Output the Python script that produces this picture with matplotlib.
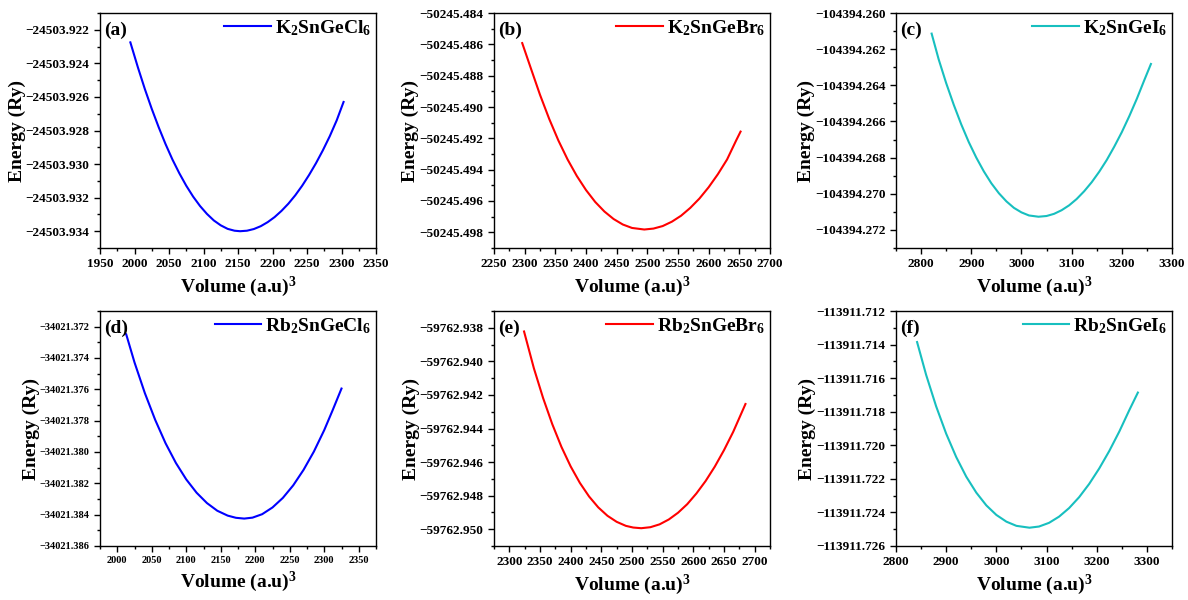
import matplotlib
matplotlib.use("Agg")
import matplotlib.pyplot as plt
from matplotlib.ticker import MultipleLocator, AutoMinorLocator, FuncFormatter

plt.rcParams['font.family'] = ['Liberation Serif', 'DejaVu Serif']
plt.rcParams['font.weight'] = 'bold'
plt.rcParams['mathtext.fontset'] = 'custom'
plt.rcParams['mathtext.rm'] = 'Liberation Serif:bold'
plt.rcParams['mathtext.it'] = 'Liberation Serif:bold'
plt.rcParams['mathtext.bf'] = 'Liberation Serif:bold'

# energy-volume curves
vol_a = [1994, 2005, 2015, 2025, 2035, 2045, 2055, 2065, 2075, 2085, 2095, 2105, 2115, 2125, 2135, 2145,
         2153, 2163, 2173, 2183, 2193, 2203, 2213, 2223, 2233, 2243, 2253, 2263, 2273, 2283, 2293, 2303]
en_a = [-24503.92275, -24503.92425, -24503.92553, -24503.92671, -24503.92780, -24503.92881,
        -24503.92973, -24503.93055, -24503.93129, -24503.93194, -24503.93250, -24503.93297,
        -24503.93336, -24503.93365, -24503.93386, -24503.93397, -24503.93400, -24503.93397,
        -24503.93387, -24503.93370, -24503.93346, -24503.93316, -24503.93279, -24503.93236,
        -24503.93186, -24503.93129, -24503.93065, -24503.92995, -24503.92918, -24503.92834,
        -24503.92740, -24503.92630]

vol_b = [2296, 2310, 2325, 2340, 2355, 2370, 2385, 2400, 2415, 2430, 2445, 2460, 2475,
         2495, 2510, 2525, 2540, 2555, 2570, 2585, 2600, 2615, 2630, 2645, 2652]
en_b = [-50245.48592, -50245.48752, -50245.48922, -50245.49076, -50245.49214, -50245.49335,
        -50245.49440, -50245.49530, -50245.49606, -50245.49667, -50245.49715, -50245.49750,
        -50245.49772, -50245.49782, -50245.49776, -50245.49760, -50245.49732, -50245.49694,
        -50245.49644, -50245.49584, -50245.49512, -50245.49429, -50245.49335, -50245.49212,
        -50245.49157]

vol_c = [2821, 2835, 2850, 2865, 2880, 2895, 2910, 2925, 2940, 2955, 2970, 2985, 3000, 3015, 3034,
         3050, 3065, 3080, 3095, 3110, 3125, 3140, 3155, 3170, 3185, 3200, 3215, 3230, 3245, 3258]
en_c = [-104394.26114, -104394.26256, -104394.26388, -104394.26507, -104394.26616, -104394.26714,
        -104394.26800, -104394.26876, -104394.26942, -104394.26997, -104394.27042, -104394.27078,
        -104394.27103, -104394.27120, -104394.27127, -104394.27123, -104394.27111, -104394.27091,
        -104394.27064, -104394.27029, -104394.26986, -104394.26936, -104394.26878, -104394.26813,
        -104394.26739, -104394.26659, -104394.26570, -104394.26474, -104394.26370, -104394.26282]

vol_d = [2013, 2025, 2040, 2055, 2070, 2085, 2100, 2115, 2130, 2145, 2160, 2172, 2184,
         2196, 2210, 2225, 2240, 2255, 2270, 2285, 2300, 2312, 2325]
en_d = [-34021.37249, -34021.37428, -34021.37624, -34021.37795, -34021.37944, -34021.38070,
        -34021.38175, -34021.38260, -34021.38326, -34021.38375, -34021.38406, -34021.38420,
        -34021.38425, -34021.38419, -34021.38397, -34021.38354, -34021.38293, -34021.38213,
        -34021.38114, -34021.37997, -34021.37860, -34021.37735, -34021.37595]

vol_e = [2324, 2340, 2355, 2370, 2385, 2400, 2415, 2430, 2445, 2460, 2475, 2490, 2502,
         2515, 2530, 2545, 2560, 2575, 2590, 2605, 2620, 2635, 2650, 2665, 2685]
en_e = [-59762.93822, -59762.94041, -59762.94218, -59762.94374, -59762.94510, -59762.94626,
        -59762.94724, -59762.94805, -59762.94870, -59762.94920, -59762.94956, -59762.94980,
        -59762.94990, -59762.94994, -59762.94988, -59762.94971, -59762.94942, -59762.94902,
        -59762.94851, -59762.94787, -59762.94713, -59762.94627, -59762.94529, -59762.94420,
        -59762.94254]

vol_f = [2842, 2860, 2880, 2900, 2920, 2940, 2960, 2980, 3000, 3020, 3040, 3066,
         3085, 3105, 3125, 3145, 3165, 3185, 3205, 3225, 3245, 3265, 3282]
en_f = [-113911.71385, -113911.71580, -113911.71768, -113911.71931, -113911.72070, -113911.72187,
        -113911.72282, -113911.72358, -113911.72415, -113911.72455, -113911.72480, -113911.72491,
        -113911.72484, -113911.72462, -113911.72425, -113911.72374, -113911.72309, -113911.72230,
        -113911.72138, -113911.72034, -113911.71918, -113911.71790, -113911.71686]

names = [r'K$_2$SnGeCl$_6$', r'K$_2$SnGeBr$_6$', r'K$_2$SnGeI$_6$',
         r'Rb$_2$SnGeCl$_6$', r'Rb$_2$SnGeBr$_6$', r'Rb$_2$SnGeI$_6$']
tags = ['(a)', '(b)', '(c)', '(d)', '(e)', '(f)']
colors = ['#0000FF', '#FF0000', '#17BFBF', '#0000FF', '#FF0000', '#17BFBF']
vols = [vol_a, vol_b, vol_c, vol_d, vol_e, vol_f]
ens = [en_a, en_b, en_c, en_d, en_e, en_f]

xlims = [(1950, 2350), (2250, 2700), (2750, 3300), (1975, 2375), (2275, 2725), (2800, 3350)]
xsteps = [50, 50, 100, 50, 50, 100]
ylims = [(-24503.935, -24503.921), (-50245.499, -50245.484), (-104394.273, -104394.260),
         (-34021.386, -34021.371), (-59762.951, -59762.937), (-113911.726, -113911.712)]
tick_fs = [9.5, 9.5, 9.5, 7.5, 9.5, 9.5]

lefts = [100, 494, 896]
tops = [13, 311]

fig = plt.figure(figsize=(11.88, 6), dpi=100)

fmt = FuncFormatter(lambda v, p: ('%.3f' % v).replace('-', '\u2212'))

for i in range(6):
    r, c = divmod(i, 3)
    ax = fig.add_axes([lefts[c] / 1188, 1 - (tops[r] + 235) / 600, 276 / 1188, 235 / 600])
    ax.plot(vols[i], ens[i], color=colors[i], lw=1.5, label=names[i])
    ax.set_xlim(*xlims[i])
    ax.set_ylim(*ylims[i])
    ax.xaxis.set_major_locator(MultipleLocator(xsteps[i]))
    ax.xaxis.set_minor_locator(AutoMinorLocator(2))
    ax.yaxis.set_major_locator(MultipleLocator(0.002))
    ax.yaxis.set_minor_locator(AutoMinorLocator(2))
    ax.yaxis.set_major_formatter(fmt)
    ax.tick_params(which='major', direction='out', length=4, width=1, labelsize=tick_fs[i])
    ax.tick_params(which='minor', direction='out', length=2.5, width=1)
    for lab in ax.get_xticklabels() + ax.get_yticklabels():
        lab.set_fontweight('bold')
    for s in ax.spines.values():
        s.set_linewidth(1)
    ax.set_xlabel(r'Volume (a.u)$^3$', fontsize=14, fontweight='bold', labelpad=3)
    ax.set_ylabel('Energy (Ry)', fontsize=14, fontweight='bold', labelpad=0)
    ax.text(0.015, 0.965, tags[i], transform=ax.transAxes, fontsize=14,
            fontweight='bold', va='top', ha='left')
    ax.legend(loc='upper right', frameon=False, fontsize=14, handlelength=2.4,
              handletextpad=0.2, borderaxespad=0.05, borderpad=0.2)

fig.savefig('out.png', dpi=100)
